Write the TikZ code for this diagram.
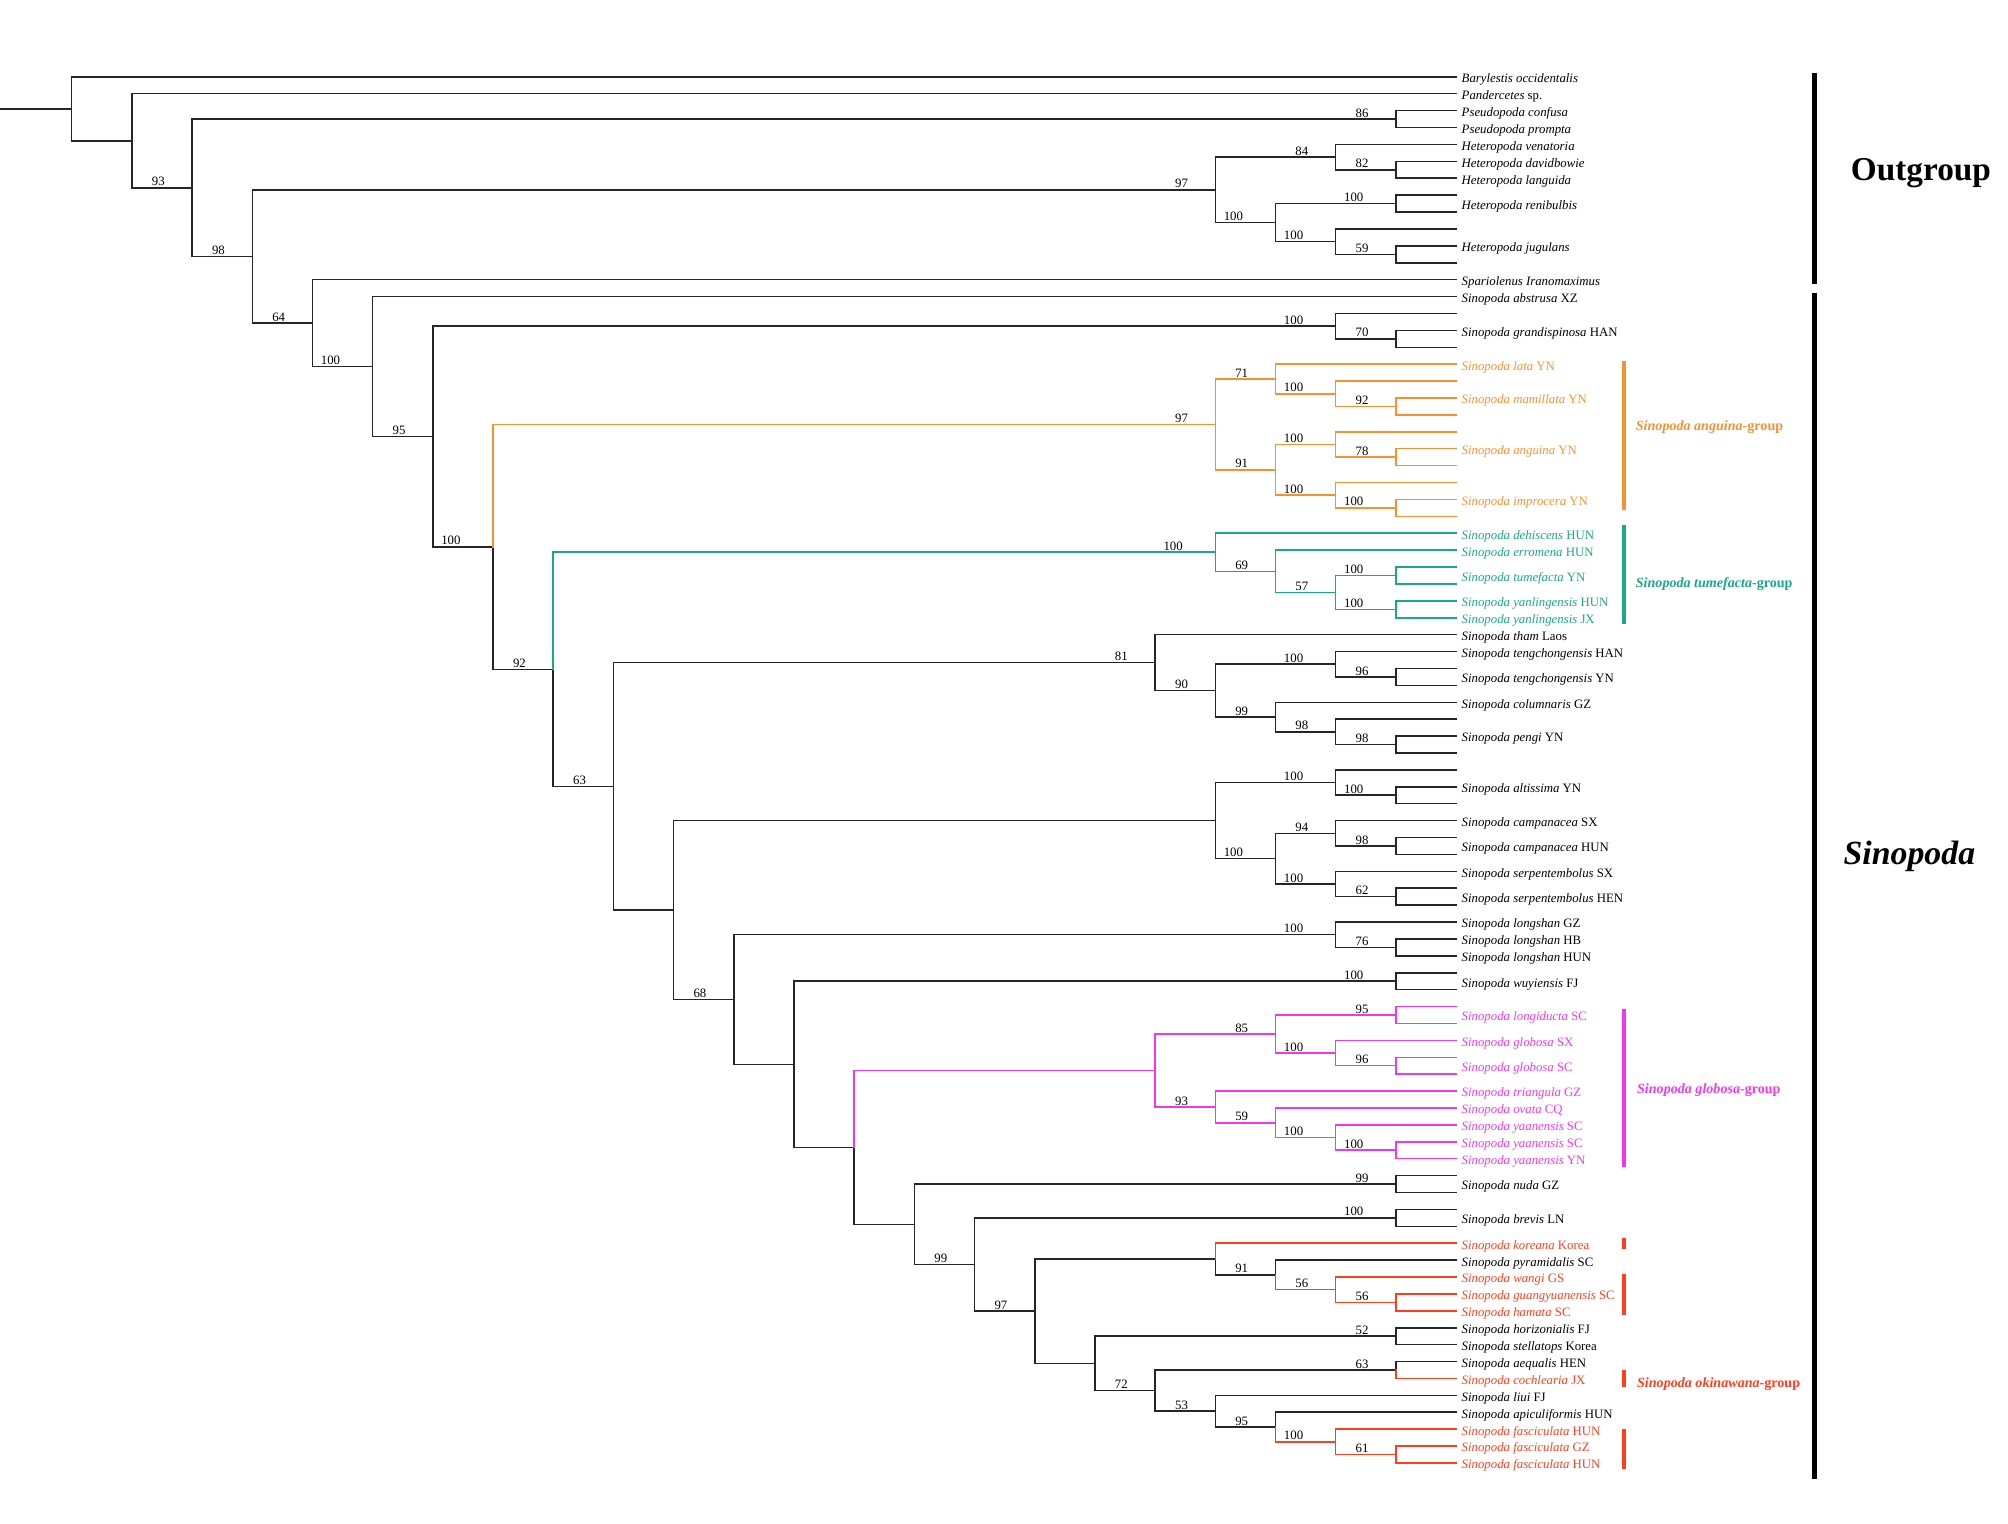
\documentclass[tikz,border=0pt]{standalone}
\usepackage{fontspec}
\setmainfont{Liberation Serif}

\definecolor{angorange}{RGB}{248,145,45}
\definecolor{tumteal}{RGB}{24,168,138}
\definecolor{globmag}{RGB}{240,55,240}
\definecolor{okired}{RGB}{255,62,30}
\newcommand{\sino}[2]{\textit{Sinopoda #1} #2}

\begin{document}
\begin{tikzpicture}[x=0.5pt, y=-6.6pt,
    br/.style={line width=0.6pt, draw=black!85, line cap=rect},
    bs/.style={anchor=south east, inner sep=0.5pt, font=\fontsize{5}{6}\selectfont},
    tx/.style={anchor=mid west, inner sep=0pt, font=\fontsize{5}{6}\selectfont},
    grp/.style={anchor=mid west, inner sep=0pt, font=\bfseries\fontsize{5.5}{6.5}\selectfont},
    gbar/.style={line width=1.3pt},
    bigbar/.style={line width=2pt}]

  \useasboundingbox (0,-4.545) rectangle (1568,85.606);

  % 1) one tip per row
  \foreach \r in {0,...,82} \coordinate (tip\r) at (1137,\r);

  % 2) inner nodes: x = 56 + 47*level, y = mean of the children
  \coordinate (R)   at (56,1.891);
  \coordinate (Na)  at (103,3.782);
  \coordinate (Nb)  at (150,6.564);
  \coordinate (Nc)  at (197,10.628);
  \coordinate (Nd)  at (244,14.570);
  \coordinate (Ne)  at (291,17.139);
  \coordinate (Nf)  at (338,21.278);
  \coordinate (Ng)  at (385,27.806);
  \coordinate (Nh)  at (432,35.049);
  \coordinate (Ni)  at (479,41.974);
  \coordinate (Nk)  at (526,49.291);
  \coordinate (Nl)  at (573,54.583);
  \coordinate (Nn)  at (620,58.415);
  \coordinate (No)  at (667,63.331);
  \coordinate (Np)  at (714,67.881);
  \coordinate (Nq)  at (761,70.262);
  \coordinate (Nr)  at (808,73.023);
  \coordinate (Nt)  at (855,76.109);
  \coordinate (Nu)  at (902,77.719);
  \coordinate (Nv)  at (949,78.938);
  \coordinate (Nw)  at (996,79.875);
  \coordinate (Nx)  at (1043,80.75);
  \coordinate (f61) at (1090,81.5);
  % outgroup clades
  \coordinate (P)     at (1090,2.5);
  \coordinate (H)     at (949,6.6875);
  \coordinate (H1)    at (1043,4.75);
  \coordinate (h82)   at (1090,5.5);
  \coordinate (H2)    at (996,8.625);
  \coordinate (renib) at (1090,7.5);
  \coordinate (H2b)   at (1043,9.75);
  \coordinate (h59)   at (1090,10.5);
  % Sinopoda clades
  \coordinate (G)    at (1043,14.75);
  \coordinate (g70)  at (1090,15.5);
  \coordinate (A)    at (949,20.5625);
  \coordinate (A1)   at (996,17.875);
  \coordinate (A1b)  at (1043,18.75);
  \coordinate (a92)  at (1090,19.5);
  \coordinate (A2)   at (996,23.25);
  \coordinate (A2a)  at (1043,21.75);
  \coordinate (a78)  at (1090,22.5);
  \coordinate (A2b)  at (1043,24.75);
  \coordinate (a100) at (1090,25.5);
  \coordinate (T)    at (949,28.125);
  \coordinate (T1)   at (996,29.25);
  \coordinate (T2)   at (1043,30.5);
  \coordinate (tum1) at (1090,29.5);
  \coordinate (tum2) at (1090,31.5);
  \coordinate (Nj)   at (902,34.656);
  \coordinate (Nj2)  at (949,36.3125);
  \coordinate (Nj3)  at (1043,34.75);
  \coordinate (j96)  at (1090,35.5);
  \coordinate (Nj4)  at (996,37.875);
  \coordinate (Nj5)  at (1043,38.75);
  \coordinate (j98)  at (1090,39.5);
  \coordinate (Nm)   at (949,44);
  \coordinate (Nm1)  at (1043,41.75);
  \coordinate (m1a)  at (1090,42.5);
  \coordinate (Nm2)  at (996,46.25);
  \coordinate (Nm2a) at (1043,44.75);
  \coordinate (m98)  at (1090,45.5);
  \coordinate (Nm2b) at (1043,47.75);
  \coordinate (m62)  at (1090,48.5);
  \coordinate (LS)   at (1043,50.75);
  \coordinate (l76)  at (1090,51.5);
  \coordinate (W)    at (1090,53.5);
  \coordinate (GL)   at (902,58.781);
  \coordinate (GL1)  at (996,56.625);
  \coordinate (g95)  at (1090,55.5);
  \coordinate (GL1b) at (1043,57.75);
  \coordinate (g96)  at (1090,58.5);
  \coordinate (GL2)  at (949,60.9375);
  \coordinate (GL2b) at (996,61.875);
  \coordinate (GL2c) at (1043,62.75);
  \coordinate (y100) at (1090,63.5);
  \coordinate (nuda)   at (1090,65.5);
  \coordinate (brevis) at (1090,67.5);
  \coordinate (Ns)   at (949,69.9375);
  \coordinate (Ns2)  at (996,70.875);
  \coordinate (Ns3)  at (1043,71.75);
  \coordinate (o56)  at (1090,72.5);
  \coordinate (hs52) at (1090,74.5);
  \coordinate (ac63) at (1090,76.5);

  % 3) branches
  \coordinate (stub) at (0,1.891);
  \draw[br] (stub) -- (R);
  \foreach \p/\c in {R/tip0, R/Na, Na/tip1, Na/Nb, Nb/P, Nb/Nc, P/tip2, P/tip3,
      Nc/H, Nc/Nd, H/H1, H/H2, H1/tip4, H1/h82, h82/tip5, h82/tip6,
      H2/renib, H2/H2b, renib/tip7, renib/tip8, H2b/tip9, H2b/h59, h59/tip10, h59/tip11,
      Nd/tip12, Nd/Ne, Ne/tip13, Ne/Nf, Nf/G, Nf/Ng, G/tip14, G/g70, g70/tip15, g70/tip16,
      Ng/Nh, Nh/Ni, Ni/Nj, Ni/Nk,
      Nj/tip33, Nj/Nj2, Nj2/Nj3, Nj2/Nj4, Nj3/tip34, Nj3/j96, j96/tip35, j96/tip36,
      Nj4/tip37, Nj4/Nj5, Nj5/tip38, Nj5/j98, j98/tip39, j98/tip40,
      Nk/Nm, Nk/Nl, Nm/Nm1, Nm/Nm2, Nm1/tip41, Nm1/m1a, m1a/tip42, m1a/tip43,
      Nm2/Nm2a, Nm2/Nm2b, Nm2a/tip44, Nm2a/m98, m98/tip45, m98/tip46,
      Nm2b/tip47, Nm2b/m62, m62/tip48, m62/tip49,
      Nl/LS, Nl/Nn, LS/tip50, LS/l76, l76/tip51, l76/tip52,
      Nn/W, Nn/No, W/tip53, W/tip54,
      No/Np, Np/nuda, Np/Nq, nuda/tip65, nuda/tip66,
      Nq/brevis, Nq/Nr, brevis/tip67, brevis/tip68,
      Nr/Ns, Nr/Nt, Ns/Ns2, Ns2/tip70,
      Nt/hs52, Nt/Nu, hs52/tip74, hs52/tip75,
      Nu/ac63, Nu/Nv, ac63/tip76, Nv/tip78, Nv/Nw, Nw/tip79}
    \draw[br] (\p) |- (\c);
  \foreach \p/\c in {Ng/A, A/A1, A/A2, A1/tip17, A1/A1b, A1b/tip18, A1b/a92, a92/tip19, a92/tip20,
      A2/A2a, A2/A2b, A2a/tip21, A2a/a78, a78/tip22, a78/tip23, A2b/tip24, A2b/a100, a100/tip25, a100/tip26}
    \draw[br, draw=angorange] (\p) |- (\c);
  \foreach \p/\c in {Nh/T, T/tip27, T/T1, T1/tip28, T1/T2, T2/tum1, T2/tum2,
      tum1/tip29, tum1/tip30, tum2/tip31, tum2/tip32}
    \draw[br, draw=tumteal] (\p) |- (\c);
  \foreach \p/\c in {No/GL, GL/GL1, GL/GL2, GL1/g95, GL1/GL1b, g95/tip55, g95/tip56,
      GL1b/tip57, GL1b/g96, g96/tip58, g96/tip59, GL2/tip60, GL2/GL2b, GL2b/tip61, GL2b/GL2c,
      GL2c/tip62, GL2c/y100, y100/tip63, y100/tip64}
    \draw[br, draw=globmag] (\p) |- (\c);
  \foreach \p/\c in {Ns/tip69, Ns2/Ns3, Ns3/tip71, Ns3/o56, o56/tip72, o56/tip73,
      ac63/tip77, Nw/Nx, Nx/tip80, Nx/f61, f61/tip81, f61/tip82}
    \draw[br, draw=okired] (\p) |- (\c);

  % 4) bootstrap values, above the branch that enters each node
  \foreach \n/\v in {Nb/93, Nc/98, Nd/64, Nf/95, Nh/92, Ni/63, P/86, H/97, H1/84, h82/82,
      h59/59, g70/70, A/97, A1/71, a92/92, A2/91, a78/78, T1/69, T2/57, Nj/81, Nj2/90,
      j96/96, Nj4/99, Nj5/98, j98/98, Nm2a/94, m98/98, m62/62, Nl/68, l76/76, GL1/85,
      g95/95, g96/96, GL2/93, GL2b/59, nuda/99, Nq/99, Nr/97, Ns2/91, Ns3/56, o56/56,
      hs52/52, Nu/72, ac63/63, Nv/53, Nw/95, f61/61}
    \node[bs, xshift=-10pt] (bs-\n) at (\n) {\v};
  \foreach \n in {Ne, Ng, H2, renib, H2b, G, A1b, A2a, A2b, a100, T, tum1, tum2, Nj3,
      Nm1, m1a, Nm2, Nm2b, LS, W, GL1b, GL2c, y100, brevis, Nx}
    \node[bs, xshift=-12pt] (bs-\n) at (\n) {100};

  % 5) taxon names
  \foreach \r/\txt [count=\i] in {0/{\textit{Barylestis occidentalis}}, 1/{\textit{Pandercetes} sp.},
      2/{\textit{Pseudopoda confusa}}, 3/{\textit{Pseudopoda prompta}},
      4/{\textit{Heteropoda venatoria}}, 5/{\textit{Heteropoda davidbowie}},
      6/{\textit{Heteropoda languida}}, 7.5/{\textit{Heteropoda renibulbis}},
      10/{\textit{Heteropoda jugulans}}, 12/{\textit{Spariolenus Iranomaximus}},
      13/{\sino{abstrusa}{XZ}}, 15/{\sino{grandispinosa}{HAN}},
      33/{\sino{tham}{Laos}}, 34/{\sino{tengchongensis}{HAN}}, 35.5/{\sino{tengchongensis}{YN}},
      37/{\sino{columnaris}{GZ}}, 39/{\sino{pengi}{YN}}, 42/{\sino{altissima}{YN}},
      44/{\sino{campanacea}{SX}}, 45.5/{\sino{campanacea}{HUN}},
      47/{\sino{serpentembolus}{SX}}, 48.5/{\sino{serpentembolus}{HEN}},
      50/{\sino{longshan}{GZ}}, 51/{\sino{longshan}{HB}}, 52/{\sino{longshan}{HUN}},
      53.5/{\sino{wuyiensis}{FJ}}, 65.5/{\sino{nuda}{GZ}}, 67.5/{\sino{brevis}{LN}},
      70/{\sino{pyramidalis}{SC}}, 74/{\sino{horizonialis}{FJ}}, 75/{\sino{stellatops}{Korea}},
      76/{\sino{aequalis}{HEN}}, 78/{\sino{liui}{FJ}}, 79/{\sino{apiculiformis}{HUN}}}
    \node[tx] (blk\i) at (1141,\r) {\txt};
  \foreach \r/\txt [count=\i] in {17/{\sino{lata}{YN}}, 19/{\sino{mamillata}{YN}},
      22/{\sino{anguina}{YN}}, 25/{\sino{improcera}{YN}}}
    \node[tx, text=angorange] (ang\i) at (1141,\r) {\txt};
  \foreach \r/\txt [count=\i] in {27/{\sino{dehiscens}{HUN}}, 28/{\sino{erromena}{HUN}},
      29.5/{\sino{tumefacta}{YN}}, 31/{\sino{yanlingensis}{HUN}}, 32/{\sino{yanlingensis}{JX}}}
    \node[tx, text=tumteal] (tum\i) at (1141,\r) {\txt};
  \foreach \r/\txt [count=\i] in {55.5/{\sino{longiducta}{SC}}, 57/{\sino{globosa}{SX}},
      58.5/{\sino{globosa}{SC}}, 60/{\sino{triangula}{GZ}}, 61/{\sino{ovata}{CQ}},
      62/{\sino{yaanensis}{SC}}, 63/{\sino{yaanensis}{SC}}, 64/{\sino{yaanensis}{YN}}}
    \node[tx, text=globmag] (glo\i) at (1141,\r) {\txt};
  \foreach \r/\txt [count=\i] in {69/{\sino{koreana}{Korea}}, 71/{\sino{wangi}{GS}},
      72/{\sino{guangyuanensis}{SC}}, 73/{\sino{hamata}{SC}}, 77/{\sino{cochlearia}{JX}},
      80/{\sino{fasciculata}{HUN}}, 81/{\sino{fasciculata}{GZ}}, 82/{\sino{fasciculata}{HUN}}}
    \node[tx, text=okired] (oki\i) at (1141,\r) {\txt};

  % 6) species groups
  \draw[gbar, angorange] (1268,16.8) -- (1268,25.6);
  \node[grp, text=angorange] (angGroup) at (1277,20.6) {\textit{Sinopoda anguina}-group};
  \draw[gbar, tumteal] (1268,26.5) -- (1268,32.35);
  \node[grp, text=tumteal] (tumGroup) at (1277,29.85) {\textit{Sinopoda tumefacta}-group};
  \draw[gbar, globmag] (1268,55.15) -- (1268,64.5);
  \node[grp, text=globmag] (gloGroup) at (1278,59.77) {\textit{Sinopoda globosa}-group};
  \foreach \a/\b in {68.7/69.35, 70.83/73.26, 76.5/77.5, 80/82.35}
    \draw[gbar, okired] (1268,\a) -- (1268,\b);
  \node[grp, text=okired] (okiGroup) at (1278,77.2) {\textit{Sinopoda okinawana}-group};

  % 7) outgroup and ingroup
  \draw[bigbar] (1417,-0.23) -- (1417,12.27);
  \draw[bigbar] (1417,12.8) -- (1417,82.95);
  \node[font=\bfseries\fontsize{13}{15}\selectfont] (outLab) at (1500,5.68) {Outgroup};
  \node[font=\bfseries\itshape\fontsize{13.2}{15}\selectfont] (sinLab) at (1491,46.1) {Sinopoda};

\end{tikzpicture}
\end{document}
